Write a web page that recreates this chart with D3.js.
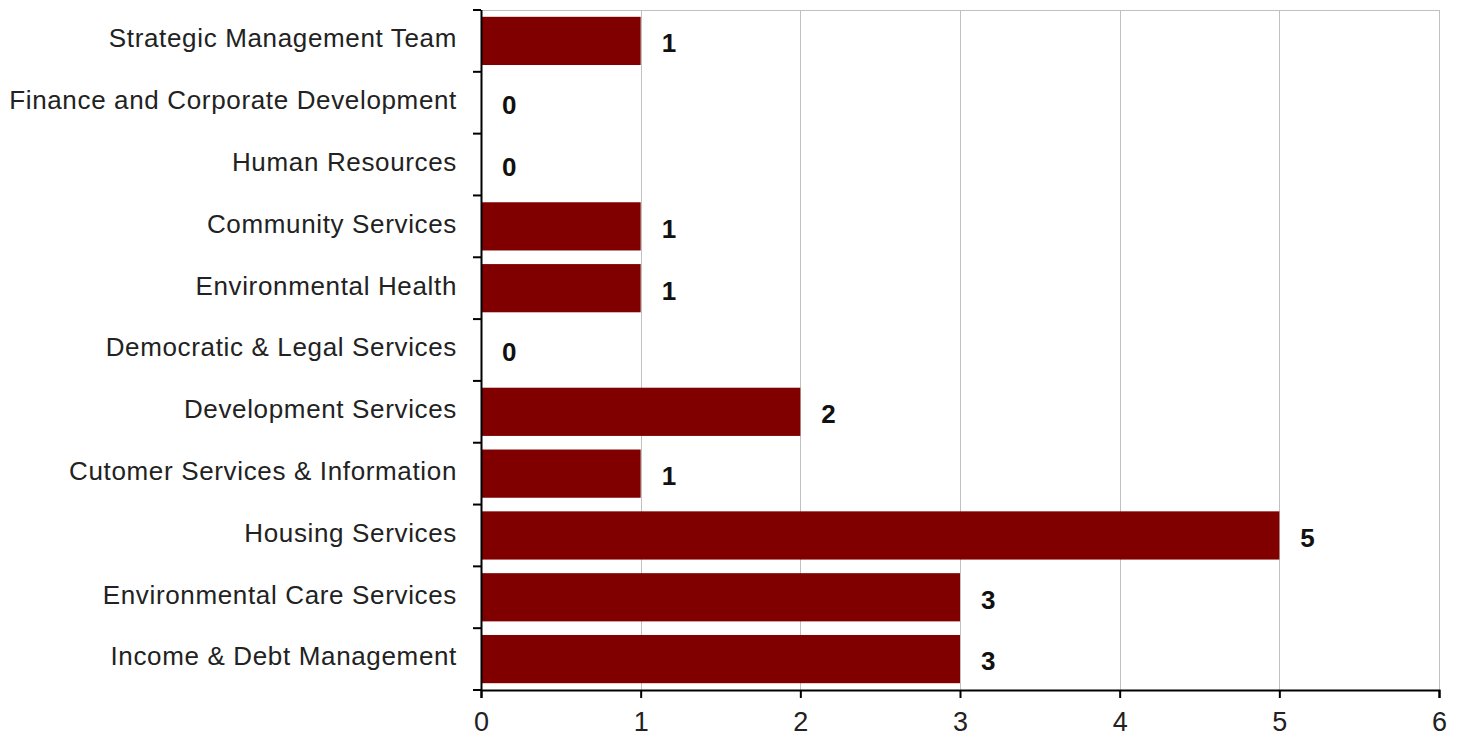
<!DOCTYPE html>
<html>
<head>
<meta charset="utf-8">
<script src="https://cdn.jsdelivr.net/npm/d3@7"></script>
<style>
  body { margin: 0; background: #fff; }
  text { font-family: "Liberation Sans Narrow", "Arial Narrow", "Liberation Sans", sans-serif; }
</style>
</head>
<body>
<svg id="chart"></svg>
<script>
// data, top to bottom
var departments = [
    "Strategic Management Team",
    "Finance and Corporate Development",
    "Human Resources",
    "Community Services",
    "Environmental Health",
    "Democratic & Legal Services",
    "Development Services",
    "Cutomer Services & Information",
    "Housing Services",
    "Environmental Care Services",
    "Income & Debt Management"
];
var counts = [1, 0, 0, 1, 1, 0, 2, 1, 5, 3, 3];
var xTicks = [0, 1, 2, 3, 4, 5, 6];

var width = 1461, height = 738;
var margin = { top: 10, right: 22, bottom: 48, left: 481 };
var innerW = width - margin.left - margin.right;
var innerH = height - margin.top - margin.bottom;

var svg = d3.select('#chart')
    .attr('width', width)
    .attr('height', height);

var g = svg.append('g')
    .attr('transform', 'translate(' + margin.left + ',' + margin.top + ')');

var x = d3.scaleLinear()
    .domain([0, 6])
    .range([0, innerW]);

var y = d3.scaleBand()
    .domain(departments)
    .range([0, innerH])
    .paddingInner(0.22)
    .paddingOuter(0.11);

// plot frame top line + gridlines
g.append('line')
    .attr('x1', 0).attr('x2', innerW)
    .attr('y1', 0.5).attr('y2', 0.5)
    .attr('stroke', '#c0c0c0');

g.selectAll('.grid')
    .data(xTicks.slice(1))
    .enter().append('line')
    .attr('class', 'grid')
    .attr('x1', function(d) { return Math.round(x(d)) + 0.5; })
    .attr('x2', function(d) { return Math.round(x(d)) + 0.5; })
    .attr('y1', 0)
    .attr('y2', innerH)
    .attr('stroke', '#c0c0c0');

// bars
var rows = departments.map(function(d, i) { return { name: d, value: counts[i] }; });

g.selectAll('.bar')
    .data(rows)
    .enter().append('rect')
    .attr('class', 'bar')
    .attr('x', 0)
    .attr('y', function(d) { return y(d.name); })
    .attr('width', function(d) { return x(d.value); })
    .attr('height', y.bandwidth())
    .attr('fill', '#800000');

// value labels
g.selectAll('.val')
    .data(rows)
    .enter().append('text')
    .attr('class', 'val')
    .attr('x', function(d) { return x(d.value) + 21; })
    .attr('y', function(d) { return y(d.name) + y.bandwidth() / 2 + 2; })
    .attr('dy', '0.36em')
    .attr('font-size', 26)
    .attr('font-weight', 'bold')
    .attr('fill', '#111')
    .text(function(d) { return d.value; });

// left axis: ticks on category boundaries
var step = innerH / departments.length;
var yAxisG = g.append('g').attr('class', 'y axis');
yAxisG.append('line')
    .attr('x1', 0.5).attr('x2', 0.5)
    .attr('y1', 0).attr('y2', innerH)
    .attr('stroke', '#000').attr('stroke-width', 2);
yAxisG.selectAll('.ytick')
    .data(d3.range(departments.length + 1))
    .enter().append('line')
    .attr('class', 'ytick')
    .attr('x1', -8).attr('x2', 0)
    .attr('y1', function(i) { return i * step; })
    .attr('y2', function(i) { return i * step; })
    .attr('stroke', '#000').attr('stroke-width', 2);
yAxisG.selectAll('.ylab')
    .data(departments)
    .enter().append('text')
    .attr('class', 'ylab')
    .attr('x', -24)
    .attr('y', function(d) { return y(d) + y.bandwidth() / 2 - 3; })
    .attr('dy', '0.36em')
    .attr('text-anchor', 'end')
    .attr('font-size', 26)
    .attr('letter-spacing', 0.65)
    .attr('fill', '#222')
    .text(function(d) { return d; });

// bottom axis
var xAxis = d3.axisBottom(x)
    .tickValues(xTicks)
    .tickFormat(d3.format('d'))
    .tickSize(8)
    .tickPadding(14);

var xAxisG = g.append('g')
    .attr('class', 'x axis')
    .attr('transform', 'translate(0,' + innerH + ')')
    .call(xAxis);
xAxisG.select('.domain').attr('stroke-width', 2);
xAxisG.selectAll('.tick line').attr('stroke-width', 2);
xAxisG.selectAll('.tick text')
    .attr('font-size', 27)
    .attr('font-family', '"Liberation Sans Narrow", "Arial Narrow", sans-serif')
    .attr('fill', '#222');
</script>
</body>
</html>
